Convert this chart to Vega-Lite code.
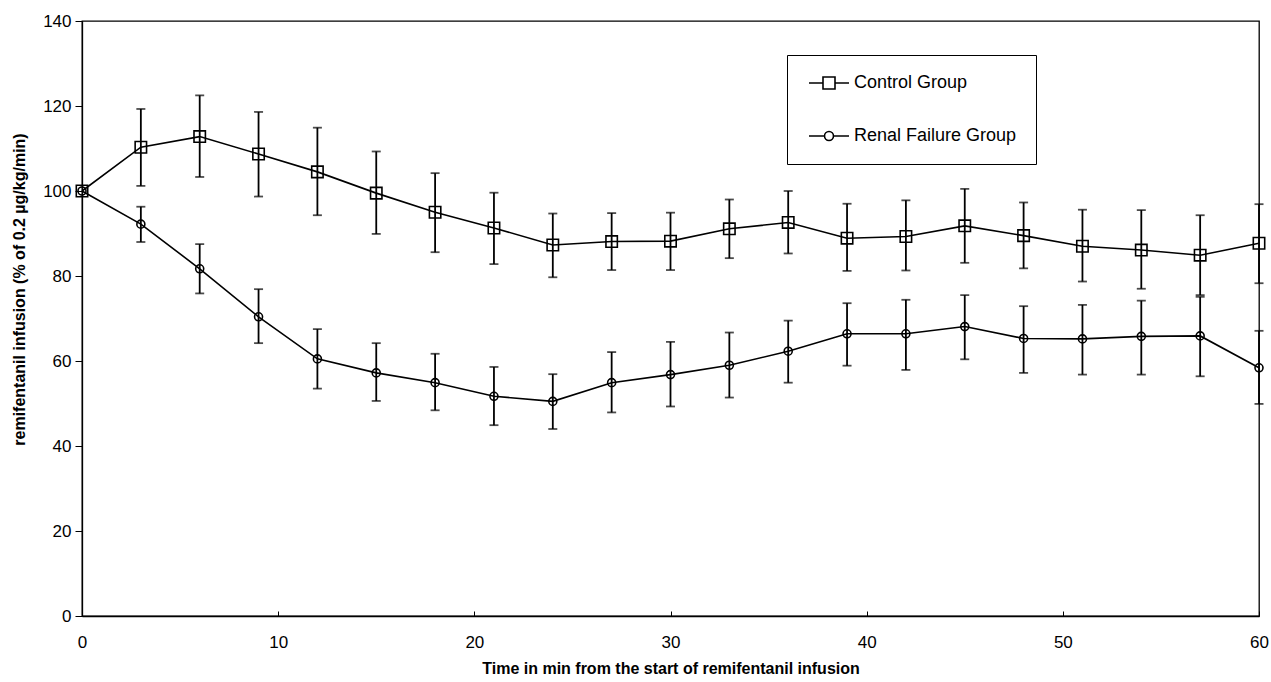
{
  "$schema": "https://vega.github.io/schema/vega-lite/v6.json",
  "width": 1177,
  "height": 595,
  "autosize": "none",
  "padding": {"left": 82, "top": 21, "right": 12, "bottom": 66},
  "background": "white",
  "config": {
    "view": {"stroke": "black", "strokeWidth": 1.3},
    "font": "Liberation Sans"
  },
  "data": {
    "values": [
      {"t": 0, "group": "Control Group", "mean": 100, "lo": null, "hi": null},
      {"t": 3, "group": "Control Group", "mean": 110.3, "lo": 101.2, "hi": 119.3},
      {"t": 6, "group": "Control Group", "mean": 112.8, "lo": 103.3, "hi": 122.5},
      {"t": 9, "group": "Control Group", "mean": 108.7, "lo": 98.7, "hi": 118.6},
      {"t": 12, "group": "Control Group", "mean": 104.5, "lo": 94.3, "hi": 114.9},
      {"t": 15, "group": "Control Group", "mean": 99.5, "lo": 89.9, "hi": 109.3},
      {"t": 18, "group": "Control Group", "mean": 95.0, "lo": 85.6, "hi": 104.2},
      {"t": 21, "group": "Control Group", "mean": 91.3, "lo": 82.8, "hi": 99.6},
      {"t": 24, "group": "Control Group", "mean": 87.3, "lo": 79.7, "hi": 94.7},
      {"t": 27, "group": "Control Group", "mean": 88.1, "lo": 81.4, "hi": 94.8},
      {"t": 30, "group": "Control Group", "mean": 88.2, "lo": 81.4, "hi": 94.9},
      {"t": 33, "group": "Control Group", "mean": 91.1, "lo": 84.2, "hi": 98.0},
      {"t": 36, "group": "Control Group", "mean": 92.6, "lo": 85.3, "hi": 100.0},
      {"t": 39, "group": "Control Group", "mean": 88.9, "lo": 81.2, "hi": 97.0},
      {"t": 42, "group": "Control Group", "mean": 89.3, "lo": 81.3, "hi": 97.8},
      {"t": 45, "group": "Control Group", "mean": 91.8, "lo": 83.1, "hi": 100.5},
      {"t": 48, "group": "Control Group", "mean": 89.5, "lo": 81.8, "hi": 97.3},
      {"t": 51, "group": "Control Group", "mean": 87.0, "lo": 78.7, "hi": 95.6},
      {"t": 54, "group": "Control Group", "mean": 86.1, "lo": 77.0, "hi": 95.5},
      {"t": 57, "group": "Control Group", "mean": 84.9, "lo": 75.5, "hi": 94.3},
      {"t": 60, "group": "Control Group", "mean": 87.7, "lo": 78.3, "hi": 96.9},
      {"t": 0, "group": "Renal Failure Group", "mean": 100, "lo": null, "hi": null},
      {"t": 3, "group": "Renal Failure Group", "mean": 92.2, "lo": 88.0, "hi": 96.3},
      {"t": 6, "group": "Renal Failure Group", "mean": 81.7, "lo": 75.9, "hi": 87.5},
      {"t": 9, "group": "Renal Failure Group", "mean": 70.4, "lo": 64.2, "hi": 76.9},
      {"t": 12, "group": "Renal Failure Group", "mean": 60.5, "lo": 53.5, "hi": 67.5},
      {"t": 15, "group": "Renal Failure Group", "mean": 57.2, "lo": 50.6, "hi": 64.2},
      {"t": 18, "group": "Renal Failure Group", "mean": 54.9, "lo": 48.4, "hi": 61.7},
      {"t": 21, "group": "Renal Failure Group", "mean": 51.7, "lo": 44.9, "hi": 58.6},
      {"t": 24, "group": "Renal Failure Group", "mean": 50.5, "lo": 44.0, "hi": 56.9},
      {"t": 27, "group": "Renal Failure Group", "mean": 54.9, "lo": 47.9, "hi": 62.1},
      {"t": 30, "group": "Renal Failure Group", "mean": 56.8, "lo": 49.3, "hi": 64.5},
      {"t": 33, "group": "Renal Failure Group", "mean": 59.0, "lo": 51.4, "hi": 66.7},
      {"t": 36, "group": "Renal Failure Group", "mean": 62.3, "lo": 54.9, "hi": 69.5},
      {"t": 39, "group": "Renal Failure Group", "mean": 66.4, "lo": 58.9, "hi": 73.6},
      {"t": 42, "group": "Renal Failure Group", "mean": 66.4, "lo": 57.9, "hi": 74.4},
      {"t": 45, "group": "Renal Failure Group", "mean": 68.1, "lo": 60.4, "hi": 75.5},
      {"t": 48, "group": "Renal Failure Group", "mean": 65.3, "lo": 57.2, "hi": 72.9},
      {"t": 51, "group": "Renal Failure Group", "mean": 65.2, "lo": 56.8, "hi": 73.2},
      {"t": 54, "group": "Renal Failure Group", "mean": 65.8, "lo": 56.8, "hi": 74.2},
      {"t": 57, "group": "Renal Failure Group", "mean": 65.9, "lo": 56.4, "hi": 75.1},
      {"t": 60, "group": "Renal Failure Group", "mean": 58.4, "lo": 49.9, "hi": 67.1}
    ]
  },
  "encoding": {
    "x": {
      "field": "t",
      "type": "quantitative",
      "scale": {"domain": [0, 60], "nice": false},
      "axis": {
        "title": "Time in min from the start of remifentanil infusion",
        "values": [0, 10, 20, 30, 40, 50, 60],
        "grid": false,
        "domainColor": "black",
        "domainWidth": 1.3,
        "tickColor": "black",
        "tickSize": -5,
        "labelFontSize": 17,
        "labelColor": "black",
        "labelPadding": 23,
        "labelFlush": false,
        "titleFontSize": 16,
        "titleFontWeight": "bold",
        "titleColor": "black",
        "titlePadding": 10
      }
    }
  },
  "layer": [
    {
      "mark": {"type": "line", "color": "black", "strokeWidth": 1.6},
      "encoding": {
        "y": {
          "field": "mean",
          "type": "quantitative",
          "title": "remifentanil infusion (% of 0.2 µg/kg/min)",
          "scale": {"domain": [0, 140], "nice": false},
          "axis": {
            "values": [0, 20, 40, 60, 80, 100, 120, 140],
            "grid": false,
            "domainColor": "black",
            "domainWidth": 1.3,
            "tickColor": "black",
            "tickSize": 7,
            "labelFontSize": 17,
            "labelColor": "black",
            "labelPadding": 4,
            "titleFontSize": 16,
            "titleFontWeight": "bold",
            "titleColor": "black",
            "titleY": 268,
            "titleX": -55
          }
        },
        "detail": {"field": "group", "type": "nominal"}
      }
    },
    {
      "transform": [{"filter": "datum.lo != null"}],
      "mark": {"type": "errorbar", "ticks": {"size": 9}, "thickness": 1.8, "color": "black"},
      "encoding": {
        "y": {"field": "lo", "type": "quantitative", "title": "remifentanil infusion (% of 0.2 µg/kg/min)"},
        "y2": {"field": "hi"},
        "detail": {"field": "group", "type": "nominal"}
      }
    },
    {
      "mark": {"type": "point", "filled": false, "color": "black", "strokeWidth": 1.6, "opacity": 1},
      "encoding": {
        "y": {"field": "mean", "type": "quantitative", "title": "remifentanil infusion (% of 0.2 µg/kg/min)"},
        "shape": {"condition": {"test": "datum.group === 'Control Group'", "value": "square"}, "value": "circle"},
        "size": {"condition": {"test": "datum.group === 'Control Group'", "value": 130}, "value": 64}
      }
    },
    {
      "transform": [{"filter": "datum.t < 0"}],
      "mark": {"type": "point", "filled": false, "color": "black", "strokeWidth": 1.6, "opacity": 1},
      "encoding": {
        "y": {"field": "mean", "type": "quantitative", "title": "remifentanil infusion (% of 0.2 µg/kg/min)"},
        "shape": {
          "field": "group",
          "type": "nominal",
          "scale": {
            "domain": ["Control Group", "Renal Failure Group"],
            "range": [
              "M-0.75,0H1M2.5,0H4.25M1,-0.75H2.5V0.75H1Z",
              "M-0.75,0H1.19M2.31,0H4.25M1.19,0A0.56,0.56 0 1,0 2.31,0A0.56,0.56 0 1,0 1.19,0Z"
            ]
          },
          "legend": {
            "orient": "none",
            "legendX": 705,
            "legendY": 34,
            "title": null,
            "strokeColor": "black",
            "fillColor": "white",
            "padding": 19,
            "labelFontSize": 18,
            "labelColor": "black",
            "labelLimit": 400,
            "symbolSize": 256,
            "symbolOpacity": 1,
            "symbolStrokeColor": "black",
            "symbolStrokeWidth": 1.6,
            "symbolFillColor": "transparent",
            "rowPadding": 34,
            "labelOffset": 30
          }
        }
      }
    }
  ]
}
